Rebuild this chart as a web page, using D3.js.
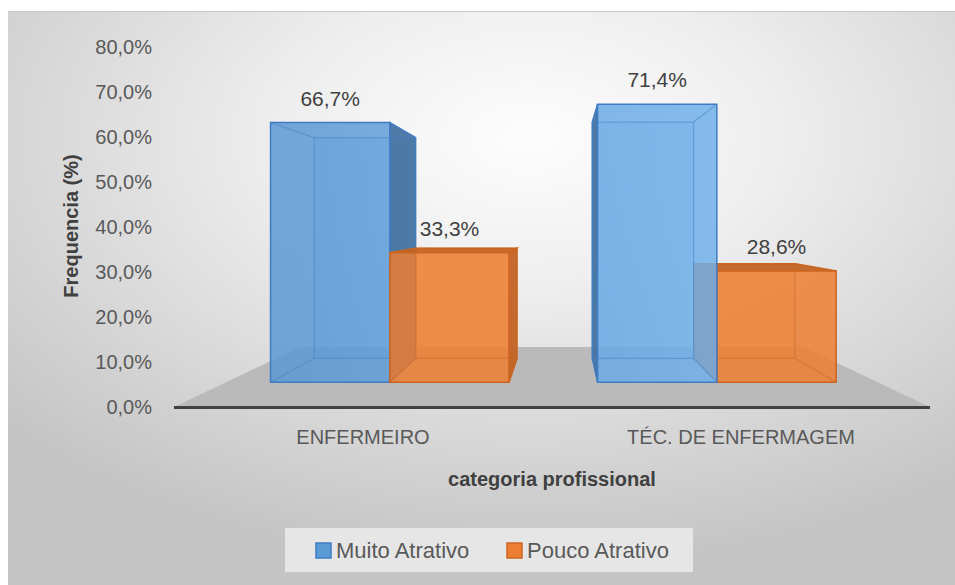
<!DOCTYPE html>
<html>
<head>
<meta charset="utf-8">
<script src="https://cdn.jsdelivr.net/npm/d3@7"></script>
<style>
  body { margin: 0; background: #fff; }
  svg { display: block; font-family: "Liberation Sans", Arial, sans-serif; }
</style>
</head>
<body>
<div id="chart"></div>
<script>
// data
const categories = ["ENFERMEIRO", "TÉC. DE ENFERMAGEM"];
const seriesNames = ["Muito Atrativo", "Pouco Atrativo"];
const muitoAtrativo = [66.7, 71.4];
const poucoAtrativo = [33.3, 28.6];
const yTicks = [0, 10, 20, 30, 40, 50, 60, 70, 80];

const width = 955, height = 585;
const colors = {
  "Muito Atrativo": { face: "url(#blueLight)", solid: "#5b9bd5", dark: "#3f6f9f", line: "#3f7cc4" },
  "Pouco Atrativo": { face: "#ed7d31", solid: "#ed7d31", dark: "#c0601f", line: "#cc6520" }
};

// perspective: vanishing point and depth scale of each plane (axis plane = 1)
const vp = { x: 562, y: 223 };
const barFrontDepth = 0.865;
const barBackDepth = 0.865 * 0.85;
const floorBackDepth = 0.674;
const proj = (px, py, s) => [vp.x + s * (px - vp.x), vp.y + s * (py - vp.y)];

const svg = d3.select("#chart").append("svg")
  .attr("width", width).attr("height", height);

const defs = svg.append("defs");
const bg = defs.append("radialGradient").attr("id", "bgGrad")
  .attr("cx", "55%").attr("cy", "22%").attr("r", "75%");
bg.append("stop").attr("offset", "0%").attr("stop-color", "#fdfdfd");
bg.append("stop").attr("offset", "35%").attr("stop-color", "#eeeeee");
bg.append("stop").attr("offset", "100%").attr("stop-color", "#c4c4c4");
// lighting on the blue series: lighter towards the right
const lg = defs.append("linearGradient").attr("id", "blueLight")
  .attr("gradientUnits", "userSpaceOnUse").attr("x1", 300).attr("x2", 720).attr("y1", 0).attr("y2", 0);
lg.append("stop").attr("offset", "0%").attr("stop-color", "#5a98d3");
lg.append("stop").attr("offset", "100%").attr("stop-color", "#72b2ec");

svg.append("rect").attr("width", width).attr("height", height).attr("fill", "#fff");
svg.append("rect")
  .attr("x", 8).attr("y", 11).attr("width", width - 8).attr("height", height - 11)
  .attr("fill", "url(#bgGrad)");
svg.append("line").attr("x1", 8).attr("x2", width).attr("y1", 11.5).attr("y2", 11.5)
  .attr("stroke", "#c8c8c8");

// scales (axis plane)
const x = d3.scaleBand().domain(categories).range([174, 930]);
const xInner = d3.scaleBand().domain(seriesNames).range([0, x.bandwidth()])
  .paddingInner(0).paddingOuter(0.37);
const y = d3.scaleLinear().domain([0, 80]).range([407, 47]);

// floor
const [x0, x1] = x.range();
const floorPts = [
  [x0, y(0)], [x1, y(0)],
  proj(x1 - 10, y(0), floorBackDepth), proj(x0, y(0), floorBackDepth)
];
svg.append("polygon").attr("points", floorPts.map(p => p.join(",")).join(" "))
  .attr("fill", "#bababa");

// y tick labels
svg.append("g").selectAll("text").data(yTicks).join("text")
  .attr("x", 152).attr("y", d => y(d)).attr("dy", "0.35em")
  .attr("text-anchor", "end").attr("font-size", 20).attr("fill", "#595959")
  .text(d => d3.format(".1f")(d).replace(".", ",") + "%");

// bars
const bars = [];
categories.forEach((c, i) => {
  [muitoAtrativo[i], poucoAtrativo[i]].forEach((v, j) => {
    const s = seriesNames[j];
    const bx0 = x(c) + xInner(s), bx1 = bx0 + xInner.bandwidth();
    bars.push({ c, s, v, bx0, bx1, yt: y(v), yb: y(0) });
  });
});
// paint the bars farthest from the vanishing point first
bars.sort((a, b) =>
  Math.abs((b.bx0 + b.bx1) / 2 - vp.x) - Math.abs((a.bx0 + a.bx1) / 2 - vp.x));

const pts = arr => arr.map(p => p.join(",")).join(" ");
const barG = svg.append("g");
bars.forEach(b => {
  const col = colors[b.s];
  const F = [[b.bx0, b.yt], [b.bx1, b.yt], [b.bx1, b.yb], [b.bx0, b.yb]].map(p => proj(p[0], p[1], barFrontDepth));
  const B = [[b.bx0, b.yt], [b.bx1, b.yt], [b.bx1, b.yb], [b.bx0, b.yb]].map(p => proj(p[0], p[1], barBackDepth));
  const faces = {
    back: B,
    left: [F[0], B[0], B[3], F[3]],
    right: [F[1], B[1], B[2], F[2]],
    top: [F[0], F[1], B[1], B[0]],
    bottom: [F[3], F[2], B[2], B[3]]
  };
  const visible = {
    left: F[0][0] > vp.x,
    right: F[1][0] < vp.x,
    top: F[0][1] > vp.y,
    bottom: F[3][1] < vp.y
  };
  const g = barG.append("g");
  // hidden faces (seen through the translucent bar)
  g.append("polygon").attr("points", pts(faces.back))
    .attr("fill", col.solid).attr("fill-opacity", 0.35);
  ["left", "right", "top", "bottom"].forEach(k => {
    if (!visible[k]) g.append("polygon").attr("points", pts(faces[k]))
      .attr("fill", col.solid).attr("fill-opacity", 0.2);
  });
  // visible side faces
  ["left", "right", "top", "bottom"].forEach(k => {
    if (visible[k]) g.append("polygon").attr("points", pts(faces[k]))
      .attr("fill", col.dark).attr("fill-opacity", 0.9);
  });
  g.append("polygon").attr("points", pts(F))
    .attr("fill", col.face).attr("fill-opacity", 0.8);
  // edges
  const hiddenEdges = [[B[0], B[1]], [B[1], B[2]], [B[2], B[3]], [B[3], B[0]],
    [F[0], B[0]], [F[1], B[1]], [F[2], B[2]], [F[3], B[3]]];
  g.selectAll("line.h").data(hiddenEdges).join("line").attr("class", "h")
    .attr("x1", d => d[0][0]).attr("y1", d => d[0][1])
    .attr("x2", d => d[1][0]).attr("y2", d => d[1][1])
    .attr("stroke", col.line).attr("stroke-opacity", 0.45).attr("stroke-width", 1.2);
  g.append("polygon").attr("points", pts(F))
    .attr("fill", "none").attr("stroke", col.line).attr("stroke-width", 1.5);
  ["left", "right", "top"].forEach(k => {
    if (visible[k]) g.append("polygon").attr("points", pts(faces[k]))
      .attr("fill", "none").attr("stroke", col.line).attr("stroke-width", 1.2);
  });
  b.labelX = (F[0][0] + F[1][0]) / 2;
  b.labelY = F[0][1] - 17;
});

// data labels
svg.append("g").selectAll("text").data(bars).join("text")
  .attr("x", d => d.labelX).attr("y", d => d.labelY)
  .attr("text-anchor", "middle").attr("font-size", 21).attr("fill", "#404040")
  .text(d => d3.format(".1f")(d.v).replace(".", ",") + "%");

// category axis line and labels
svg.append("line").attr("x1", x0).attr("x2", x1).attr("y1", y(0) + 0.5).attr("y2", y(0) + 0.5)
  .attr("stroke", "#404040").attr("stroke-width", 3);
svg.append("g").selectAll("text").data(categories).join("text")
  .attr("x", d => x(d) + x.bandwidth() / 2).attr("y", 444)
  .attr("text-anchor", "middle").attr("font-size", 20).attr("fill", "#595959")
  .text(d => d);

// axis titles
svg.append("text").attr("x", (x0 + x1) / 2).attr("y", 486)
  .attr("text-anchor", "middle").attr("font-size", 20).attr("font-weight", "bold")
  .attr("fill", "#404040").text("categoria profissional");
svg.append("text").attr("transform", "translate(78,226) rotate(-90)")
  .attr("text-anchor", "middle").attr("font-size", 20).attr("font-weight", "bold")
  .attr("fill", "#404040").text("Frequencia (%)");

// legend
const legend = svg.append("g");
legend.append("rect").attr("x", 285).attr("y", 528).attr("width", 408).attr("height", 44)
  .attr("fill", "#e6e6e6");
const legendX = [316, 507];
seriesNames.forEach((s, i) => {
  legend.append("rect").attr("x", legendX[i]).attr("y", 543).attr("width", 15).attr("height", 15)
    .attr("fill", colors[s].solid).attr("stroke", colors[s].line).attr("stroke-width", 1.5);
  legend.append("text").attr("x", legendX[i] + 20).attr("y", 558)
    .attr("font-size", 22).attr("fill", "#595959").text(s);
});
</script>
</body>
</html>
